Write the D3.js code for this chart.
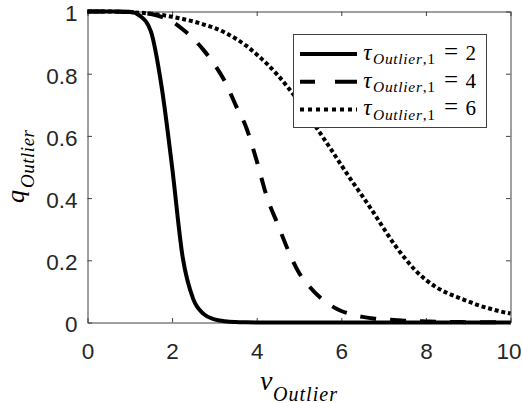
<!DOCTYPE html>
<html><head><meta charset="utf-8">
<script src="https://cdn.jsdelivr.net/npm/d3@7"></script>
<style>html,body{margin:0;padding:0;background:#fff;} svg{display:block;}</style>
</head><body>
<svg id="chart" width="522" height="403"></svg>
<script>
// ---- data ----
const nu = [0,0.25,0.5,0.75,1,1.25,1.5,1.75,2,2.25,2.5,2.75,3,3.25,3.5,3.75,4,4.25,4.5,4.75,5,
            5.25,5.5,5.75,6,6.25,6.5,6.75,7,7.25,7.5,7.75,8,8.25,8.5,8.75,9,9.25,9.5,9.75,10];
const qTau2 = [1,1,1,1,0.999,0.985,0.935,0.76,0.5,0.21,0.075,0.027,0.01,0.004,0.0015,0.0005,0,0,0,0,0,
               0,0,0,0,0,0,0,0,0,0,0,0,0,0,0,0,0,0,0,0];
const qTau4 = [1,1,1,0.999,0.998,0.996,0.992,0.983,0.968,0.943,0.913,0.875,0.83,0.775,0.70,0.628,0.52,0.40,0.315,0.23,0.16,
               0.115,0.08,0.055,0.037,0.026,0.018,0.013,0.01,0.008,0.006,0.0045,0.0035,0.0025,0.002,0.0015,0.001,0.001,0.0005,0.0005,0];
const qTau6 = [1,1,1,0.999,0.998,0.996,0.993,0.989,0.983,0.976,0.968,0.958,0.947,0.932,0.913,0.89,0.862,0.831,0.795,0.754,0.709,
               0.66,0.609,0.558,0.506,0.455,0.406,0.356,0.303,0.252,0.207,0.168,0.137,0.113,0.095,0.081,0.068,0.055,0.045,0.036,0.029];
const tauValues = ["2","4","6"];
const xTicks = [0,2,4,6,8,10];
const yTicks = [0,0.2,0.4,0.6,0.8,1];

// ---- drawing ----
const SERIF = '"Liberation Serif", serif';
const SANS = '"Liberation Sans", sans-serif';
const svg = d3.select("#chart");
svg.append("rect").attr("width",522).attr("height",403).attr("fill","#fff");
const x = d3.scaleLinear().domain([0,10]).range([87.5,510.5]);
const y = d3.scaleLinear().domain([0,1]).range([322.5,11.5]);
const axisColor = "#404040";
const tickColor = "#262626";
const tickLen = 4.5;

function styleAxis(g){
  g.attr("font-family",null).attr("font-size",null);
  g.selectAll("path.domain").attr("stroke",axisColor).attr("stroke-width",1);
  g.selectAll(".tick line").attr("stroke",axisColor).attr("stroke-width",1);
  g.selectAll("text").attr("fill",tickColor).style("font-family",SANS).style("font-size","22.5px");
}
const fmt = d => String(d);

const gB = svg.append("g").attr("transform",`translate(0,${y(0)})`)
  .call(d3.axisBottom(x).tickValues(xTicks).tickFormat(fmt).tickSizeInner(-tickLen).tickSizeOuter(0).tickPadding(21));
styleAxis(gB);
gB.selectAll(".tick text").filter(d=>d===10).attr("dx",-2);
const gT = svg.append("g").attr("transform",`translate(0,${y(1)})`)
  .call(d3.axisTop(x).tickValues(xTicks).tickFormat("").tickSizeInner(-tickLen).tickSizeOuter(0));
styleAxis(gT);
const gL = svg.append("g").attr("transform",`translate(${x(0)},0)`)
  .call(d3.axisLeft(y).tickValues(yTicks).tickFormat(fmt).tickSizeInner(-tickLen).tickSizeOuter(0).tickPadding(10));
styleAxis(gL);
gL.selectAll("text").attr("dy","0.42em");
const gR = svg.append("g").attr("transform",`translate(${x(10)},0)`)
  .call(d3.axisRight(y).tickValues(yTicks).tickFormat("").tickSizeInner(-tickLen).tickSizeOuter(0));
styleAxis(gR);

const series = [
  {vals:qTau2, dash:null, legDash:null},
  {vals:qTau4, dash:"16,14", legDash:"15,20,25"},
  {vals:qTau6, dash:"4,2.8", legDash:"4,4"}
];
const line = d3.line().x(d=>x(d[0])).y(d=>y(d[1])).curve(d3.curveMonotoneX);
series.forEach(s=>{
  svg.append("path").datum(nu.map((v,i)=>[v,s.vals[i]]))
    .attr("d",line).attr("fill","none").attr("stroke","#000").attr("stroke-width",4)
    .attr("stroke-linecap","butt").attr("stroke-linejoin","round")
    .attr("stroke-dasharray",s.dash);
});

// ---- legend ----
const leg = svg.append("g");
leg.append("rect").attr("x",293.5).attr("y",34.5).attr("width",193).attr("height",93)
  .attr("fill","#fff").attr("stroke",axisColor).attr("stroke-width",1);
series.forEach((s,i)=>{
  const ry = 54 + i*27.8;
  leg.append("line").attr("x1",300).attr("x2",357).attr("y1",ry).attr("y2",ry)
    .attr("stroke","#000").attr("stroke-width",4).attr("stroke-dasharray",s.legDash);
  leg.append("text").attr("x",367.3).attr("y",ry+5.7).attr("text-anchor","middle")
    .style("font-family",SERIF).style("font-style","italic").style("font-size","23px").text("τ");
  const sub = leg.append("text").attr("x",373).attr("y",ry+10)
    .style("font-family",SERIF).style("font-size","15.5px")
    .attr("textLength",62).attr("lengthAdjust","spacing");
  sub.append("tspan").style("font-style","italic").text("Outlier");
  sub.append("tspan").text(",1");
  leg.append("text").attr("x",451).attr("y",ry+5.7).attr("text-anchor","middle")
    .style("font-family",SERIF).style("font-size","25px").text("=");
  leg.append("text").attr("x",470.8).attr("y",ry+5.7).attr("text-anchor","middle")
    .style("font-family",SERIF).style("font-size","21px").text(tauValues[i]);
});

// ---- axis labels ----
svg.append("text").attr("x",266.3).attr("y",389.5).attr("text-anchor","middle")
  .style("font-family",SERIF).style("font-style","italic").style("font-size","28px").attr("fill","#000").text("ν");
svg.append("text").attr("x",273).attr("y",400.5).attr("textLength",64).attr("lengthAdjust","spacing")
  .style("font-family",SERIF).style("font-style","italic").style("font-size","20px").attr("fill","#000").text("Outlier");

const yl = svg.append("g").attr("transform","translate(0,167.5) rotate(-90)");
yl.append("text").attr("x",-29).attr("y",23.5).attr("text-anchor","middle")
  .style("font-family",SERIF).style("font-style","italic").style("font-size","26px").attr("fill","#000").text("q");
yl.append("text").attr("x",-20.5).attr("y",33.5).attr("textLength",58).attr("lengthAdjust","spacing")
  .style("font-family",SERIF).style("font-style","italic").style("font-size","19px").attr("fill","#000").text("Outlier");
</script>
</body></html>
